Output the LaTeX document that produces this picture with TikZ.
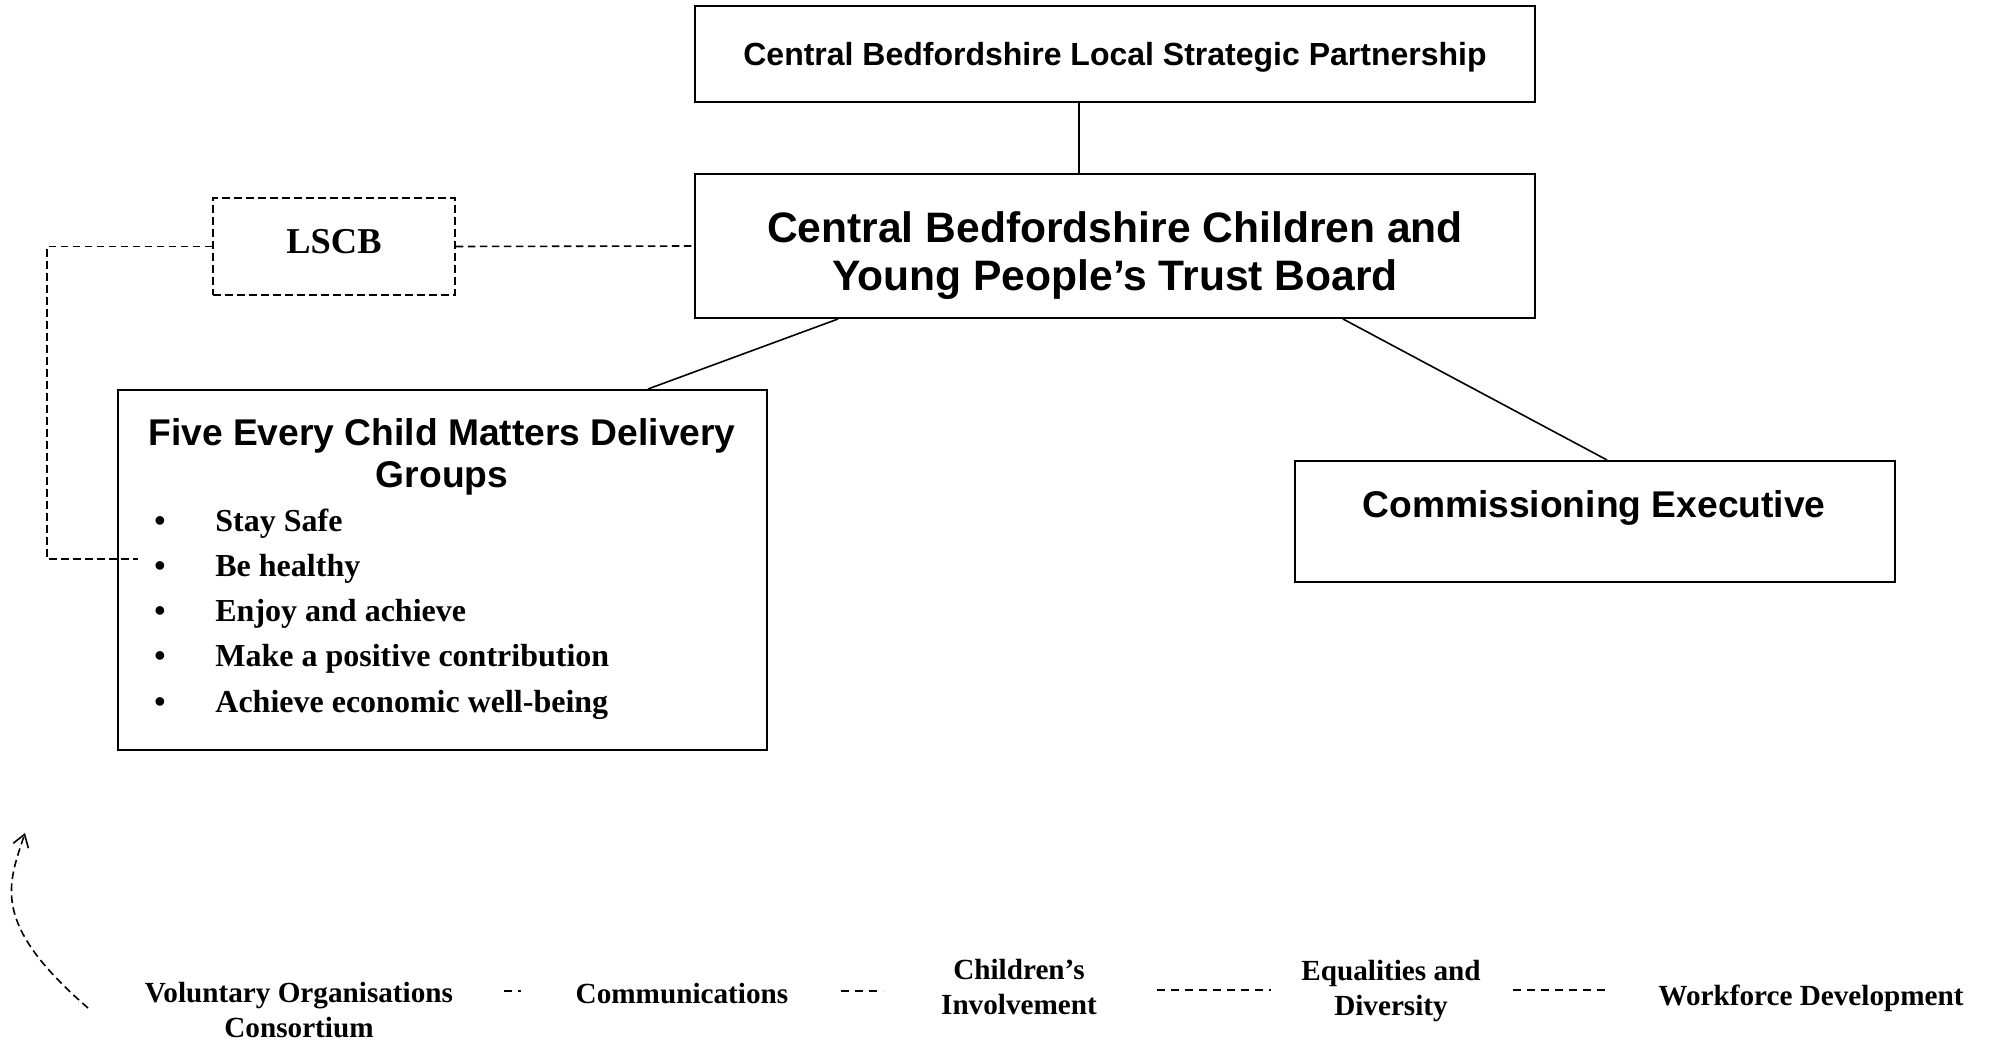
\documentclass[tikz,border=0pt]{standalone}
\usepackage{fontspec}
\setmainfont{Liberation Serif}
\newfontfamily\arialf{Liberation Sans}
\usetikzlibrary{calc,arrows.meta}
\begin{document}
\begin{tikzpicture}[x=0.5pt,y=-0.5pt,
  box/.style={draw,line width=1pt,rectangle,inner sep=0pt},
  dbox/.style={draw,line width=0.8pt,dash pattern=on 3.8pt off 2.2pt,rectangle,inner sep=0pt},
  conn/.style={line width=0.8pt},
  dconn/.style={line width=0.8pt,dash pattern=on 3.8pt off 2.2pt},
  sconn/.style={line width=0.7pt,dash pattern=on 4pt off 3pt},
  titlef/.style={font=\arialf\bfseries\fontsize{18.6}{21}\selectfont,align=center,inner sep=0pt},
  itemf/.style={font=\bfseries\fontsize{16}{19}\selectfont,inner sep=0pt},
  btxt/.style={font=\bfseries\fontsize{14.6}{17.5}\selectfont,align=center,inner sep=0pt},
]
\useasboundingbox (0,0) rectangle (1992,1042);

% main boxes
\node[box,minimum width=420pt,minimum height=48pt] (lsp) at (1115,54) {};
\node[font=\arialf\bfseries\fontsize{16}{19}\selectfont,inner sep=0pt] (lsptxt) at (1115,57) {Central Bedfordshire Local Strategic Partnership};
\node[box,minimum width=420pt,minimum height=72pt] (trust) at (1115,246) {};
\node[font=\arialf\bfseries\fontsize{21.3}{24}\selectfont,align=center,inner sep=0pt] (trusttxt) at (1115,256) {Central Bedfordshire Children and\\Young People’s Trust Board};

\node[dbox,minimum width=121pt,minimum height=48.5pt] (lscb) at (334,246.5) {};
\node[font=\bfseries\fontsize{18.2}{21}\selectfont,inner sep=0pt] (lscbtxt) at (334,242) {LSCB};

\node[box,minimum width=324.5pt,minimum height=180pt] (five) at (442.5,570) {};
\node[titlef] (fivetxt) at (442,457) {Five Every Child Matters Delivery\\Groups};
\foreach \t [count=\i] in {Stay Safe,Be healthy,Enjoy and achieve,Make a positive contribution,Achieve economic well-being}{
  \node[itemf,anchor=base] (bul\i) at (160,{532+45*(\i-1)}) {\textbullet};
  \node[itemf,anchor=base west] (item\i) at (215,{532+45*(\i-1)}) {\t};
}

\node[box,minimum width=300pt,minimum height=60.5pt] (comm) at (1595,521.5) {};
\node[titlef] (commtxt) at (1594,508) {Commissioning Executive};

% connectors
\draw[conn] ($(lsp.south)+(-36,0)$) -- ($(trust.north)+(-36,0)$);
\draw[conn] ($(trust.south)+(-277,0)$) -- ($(five.north)+(205.5,0)$);
\draw[conn] ($(trust.south)+(228,0)$) -- ($(comm.north)+(12,0)$);
\draw[dconn] (lscb.east) -- (trust.west);
\coordinate (fiveend) at (138,559);
\draw[dconn] (lscb.west) -- (47,246.5) -- (47,559) -- (fiveend);

% bottom row
\node[btxt] (vol) at (299,1010.5) {Voluntary Organisations\\Consortium};
\node[btxt] (comms) at (682,994) {Communications};
\node[btxt] (child) at (1019,987.5) {Children’s\\Involvement};
\node[btxt] (equal) at (1391,991.5) {Equalities and\\Diversity};
\node[btxt] (work) at (1811,998) {Workforce Development};

\coordinate (a1) at (504,991); \coordinate (b1) at (521,991);
\coordinate (a2) at (841,991); \coordinate (b2) at (883,991);
\coordinate (a3) at (1157,990); \coordinate (b3) at (1271,990);
\coordinate (a4) at (1513,990); \coordinate (b4) at (1606,990);
\draw[sconn] (a1) -- (b1);
\draw[sconn] (a2) -- (b2);
\draw[sconn] (a3) -- (b3);
\draw[sconn] (a4) -- (b4);

% curved dashed arrow
\coordinate (arrS) at (88,1008);
\coordinate (arrE) at (25,833);
\draw[dconn,-{Straight Barb[length=6pt,width=8pt]}] (arrS) .. controls (-10,923) and (8,885) .. (arrE);
\end{tikzpicture}
\end{document}
